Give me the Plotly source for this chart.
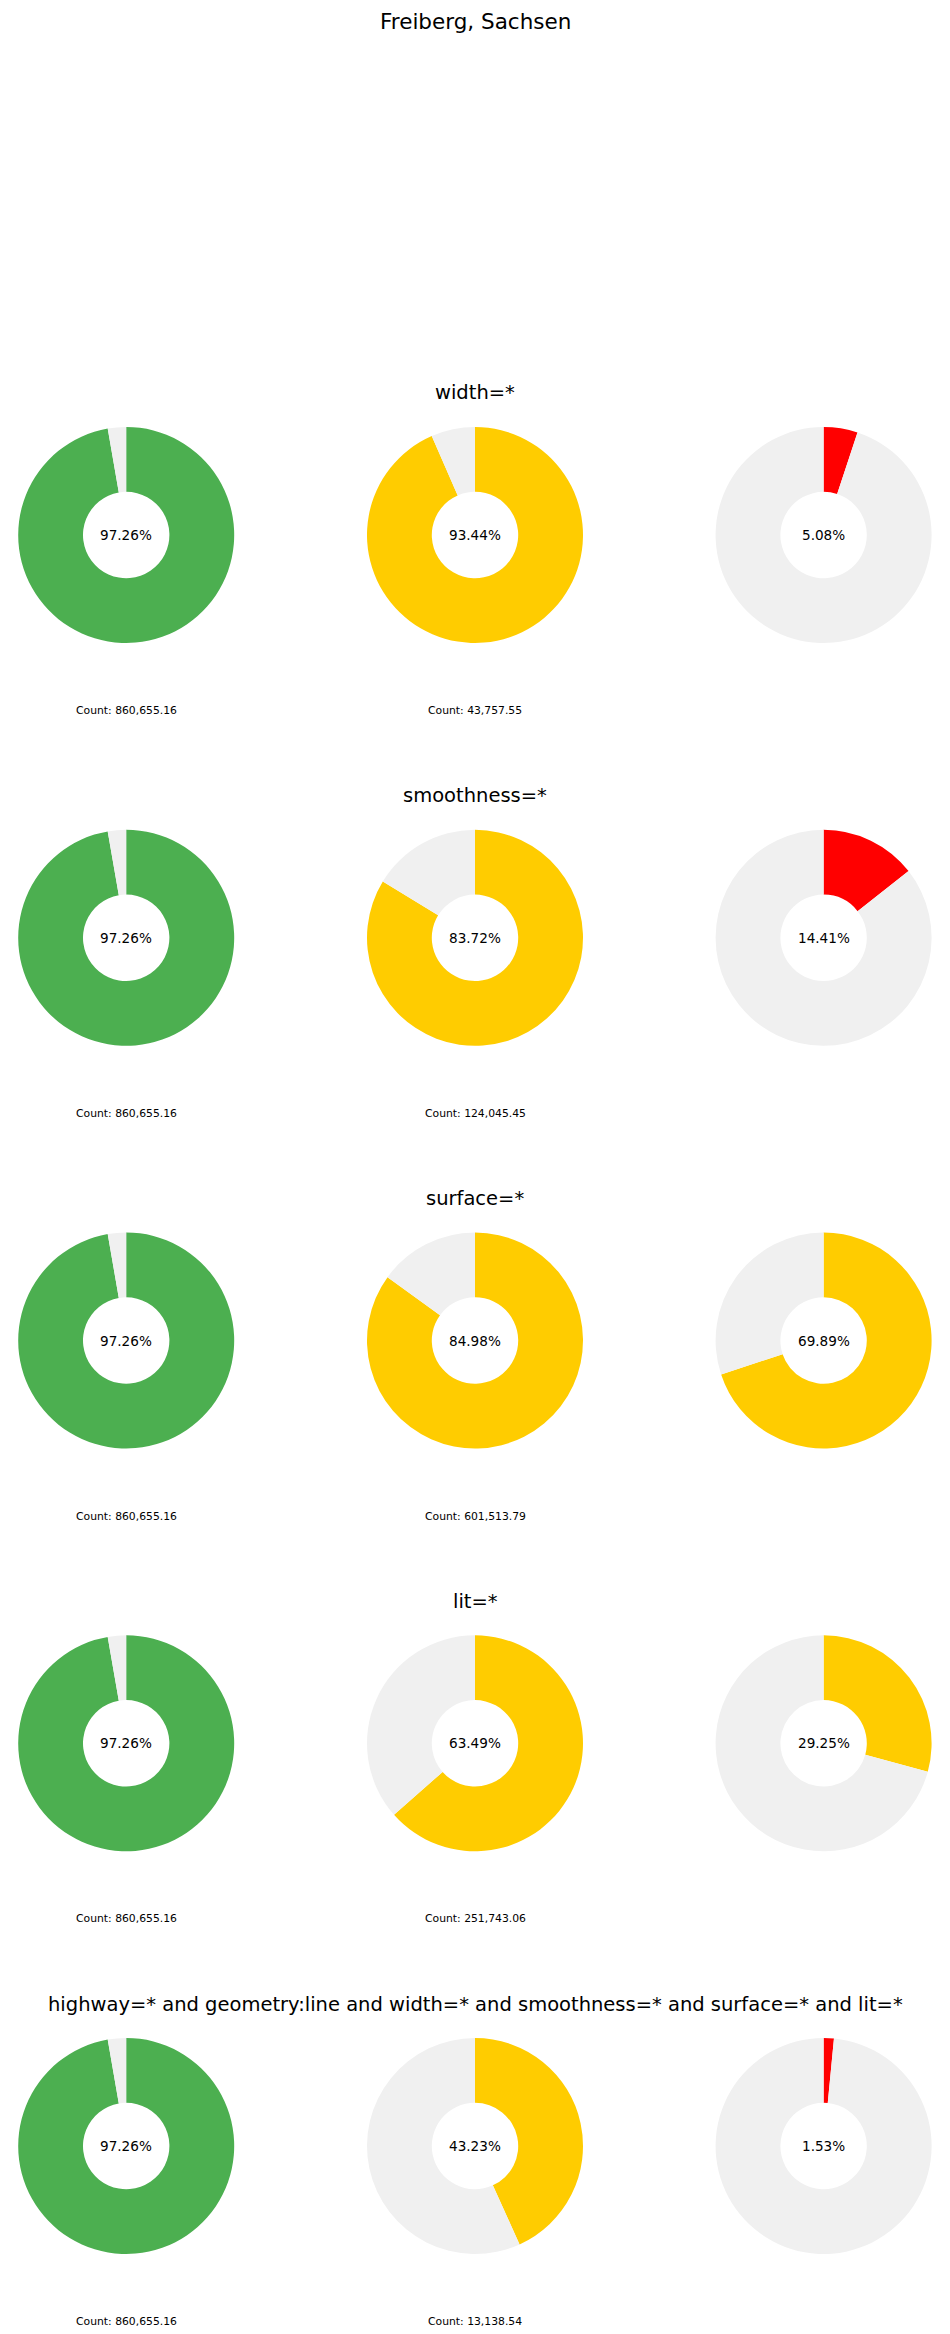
import plotly.graph_objects as go

# ---- data ----
main_title = "Freiberg, Sachsen"
section_titles = [
    "width=*",
    "smoothness=*",
    "surface=*",
    "lit=*",
    "highway=* and geometry:line and width=* and smoothness=* and surface=* and lit=*",
]
pct_col1 = [97.26, 97.26, 97.26, 97.26, 97.26]
pct_col2 = [93.44, 83.72, 84.98, 63.49, 43.23]
pct_col3 = [5.08, 14.41, 69.89, 29.25, 1.53]
count_col1 = ["860,655.16", "860,655.16", "860,655.16", "860,655.16", "860,655.16"]
count_col2 = ["43,757.55", "124,045.45", "601,513.79", "251,743.06", "13,138.54"]
color_col1 = ["#4CAF50"] * 5
color_col2 = ["#FFCC00"] * 5
color_col3 = ["#FF0000", "#FF0000", "#FFCC00", "#FFCC00", "#FF0000"]
rest_color = "#F0F0F0"

# ---- layout geometry (pixels) ----
W, H = 950, 2334
col_cx = [126.2, 475.0, 823.6]
row_cy = [535.0, 937.8, 1340.5, 1743.3, 2146.0]
R = 108.0
title_dy = -142.0
count_dy = 175.5

def px_x(x):
    return x / W

def px_y(y):
    return 1 - y / H

fig = go.Figure()
annotations = []

cols = [
    (pct_col1, color_col1, count_col1),
    (pct_col2, color_col2, count_col2),
    (pct_col3, color_col3, None),
]

for r, cy in enumerate(row_cy):
    annotations.append(dict(
        text=section_titles[r], x=0.5, y=px_y(cy + title_dy),
        xref="paper", yref="paper", xanchor="center", yanchor="middle",
        showarrow=False, font=dict(size=19.5, color="black", family="DejaVu Sans"),
    ))
    for c, (pcts, colors, counts) in enumerate(cols):
        cx = col_cx[c]
        p = pcts[r]
        fig.add_trace(go.Pie(
            values=[p, 100 - p],
            marker=dict(colors=[colors[r], rest_color], line=dict(width=0)),
            hole=0.4,
            sort=False,
            direction="clockwise",
            rotation=0,
            textinfo="none",
            hoverinfo="skip",
            showlegend=False,
            domain=dict(x=[px_x(cx - R), px_x(cx + R)],
                        y=[px_y(cy + R), px_y(cy - R)]),
        ))
        annotations.append(dict(
            text=f"{p:.2f}%", x=px_x(cx), y=px_y(cy),
            xref="paper", yref="paper", xanchor="center", yanchor="middle",
            showarrow=False, font=dict(size=13.6, color="black", family="DejaVu Sans"),
        ))
        if counts is not None:
            annotations.append(dict(
                text=f"Count: {counts[r]}", x=px_x(cx), y=px_y(cy + count_dy),
                xref="paper", yref="paper", xanchor="center", yanchor="middle",
                showarrow=False, font=dict(size=10.8, color="black", family="DejaVu Sans"),
            ))

annotations.append(dict(
    text=main_title, x=0.5, y=px_y(21),
    xref="paper", yref="paper", xanchor="center", yanchor="middle",
    showarrow=False, font=dict(size=21.5, color="black", family="DejaVu Sans"),
))

fig.update_layout(
    width=W, height=H,
    margin=dict(l=0, r=0, t=0, b=0),
    paper_bgcolor="white", plot_bgcolor="white",
    annotations=annotations,
    showlegend=False,
)

fig.write_html("out.html")
